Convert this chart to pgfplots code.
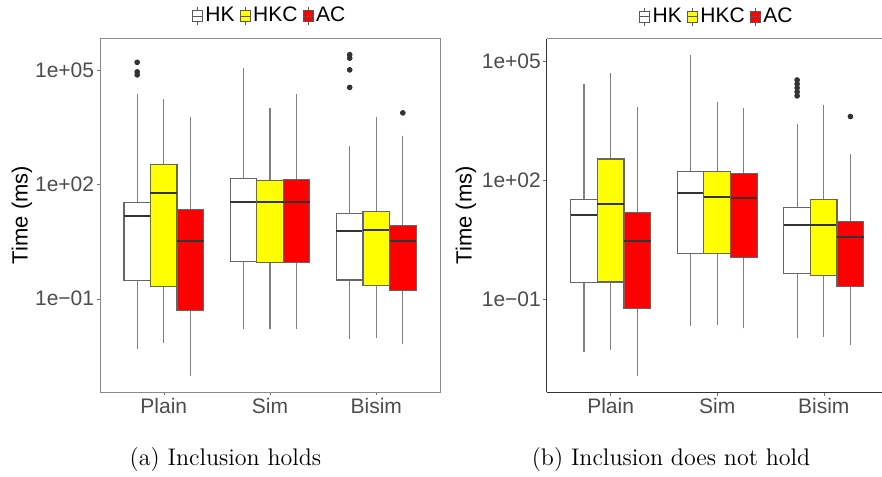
\documentclass[border=0pt]{standalone}
\usepackage{fontspec}
\usepackage{pgfplots}
\pgfplotsset{compat=1.18}
\usepgfplotslibrary{statistics}
\newfontfamily\arial{Liberation Sans}
\definecolor{ticktext}{RGB}{77,77,77}
\definecolor{acred}{RGB}{255,0,0}
\definecolor{hkcyellow}{RGB}{255,255,0}

\pgfplotsset{
  boxleg/.style={legend image code/.code={%
    \draw[##1] (0.25em,-0.45em) -- (0.25em,0.45em);
    \draw[##1] (0em,-0.28em) rectangle (0.5em,0.28em);
    \draw[##1] (0em,0em) -- (0.5em,0em);
  }},
  bxHK/.style={forget plot, draw=black!65, fill=white, mark=*, mark size=1.2pt,
    mark options={draw=black!80, fill=black!80}},
  bxHKC/.style={bxHK, fill=hkcyellow},
  bxAC/.style={bxHK, fill=acred},
}

\begin{document}
\begin{tikzpicture}
% (a) Inclusion holds
\begin{axis}[scale only axis, anchor=south west, at={(50pt,42pt)},
  width=170pt, height=177pt,
  xmin=0.4, xmax=3.6, ymode=log, ymin=0.000351, ymax=724000,
  xtick={1,2,3}, xticklabels={Plain,Sim,Bisim},
  ytick={0.1,100,100000}, yticklabels={1e−01,1e+02,1e+05},
  yminorticks=false,
  xtick pos=bottom, ytick pos=left, tick align=outside, major tick length=1.75pt,
  tick style={black!55},
  tick label style={font=\arial\fontsize{10.5}{12}\selectfont, text=ticktext},
  xticklabel style={inner sep=1pt}, yticklabel style={inner sep=1pt},
  ylabel={Time (ms)},
  ylabel style={font=\arial\fontsize{11}{13}\selectfont, at={(axis description cs:0,0.5)}, anchor=center, yshift=39pt},
  axis line style={black!45},
  boxplot/draw direction=y, boxplot/box extend=0.25, boxplot/whisker extend=0,
  boxplot/every whisker/.style={draw=black!50, line width=0.6pt},
  boxplot/every box/.style={draw=black!60, line width=0.6pt},
  boxplot/every median/.style={draw=black!80, line width=1pt},
  legend columns=3,
  legend style={draw=none, fill=none, at={(0.5,1)}, anchor=center, yshift=11pt,
    font=\arial\fontsize{10.5}{12}\selectfont, inner sep=0pt, nodes={inner sep=1.2pt},
    /tikz/every even column/.append style={column sep=1.5pt}}]
\addplot[bxHK, boxplot prepared={draw position=0.75, lower whisker=0.00468, lower quartile=0.295, median=14.8, upper quartile=33.9, upper whisker=24000}] table[row sep=\\, y index=0] {y\\166000\\93000\\77600\\};
\addplot[bxHKC, boxplot prepared={draw position=1, lower whisker=0.00676, lower quartile=0.214, median=58.9, upper quartile=347, upper whisker=17800}] coordinates {};
\addplot[bxAC, boxplot prepared={draw position=1.25, lower whisker=0.000933, lower quartile=0.0501, median=3.31, upper quartile=22.4, upper whisker=5890}] coordinates {};
\addplot[bxHK, boxplot prepared={draw position=1.75, lower whisker=0.0158, lower quartile=0.933, median=34.7, upper quartile=145, upper whisker=115000}] coordinates {};
\addplot[bxHKC, boxplot prepared={draw position=2, lower whisker=0.0158, lower quartile=0.891, median=34.7, upper quartile=132, upper whisker=10200}] coordinates {};
\addplot[bxAC, boxplot prepared={draw position=2.25, lower whisker=0.0158, lower quartile=0.891, median=34.7, upper quartile=138, upper whisker=24000}] coordinates {};
\addplot[bxHK, boxplot prepared={draw position=2.75, lower whisker=0.00871, lower quartile=0.309, median=5.89, upper quartile=17.4, upper whisker=1070}] table[row sep=\\, y index=0] {y\\263000\\214000\\105000\\36300\\};
\addplot[bxHKC, boxplot prepared={draw position=3, lower whisker=0.00912, lower quartile=0.219, median=6.46, upper quartile=19.5, upper whisker=5890}] coordinates {};
\addplot[bxAC, boxplot prepared={draw position=3.25, lower whisker=0.00631, lower quartile=0.166, median=3.31, upper quartile=8.32, upper whisker=1950}] table[row sep=\\, y index=0] {y\\7760\\};
\addlegendimage{boxleg, draw=black!65, fill=white}
\addlegendimage{boxleg, draw=black!65, fill=hkcyellow}
\addlegendimage{boxleg, draw=black!65, fill=acred}
\legend{HK,HKC,AC}
\end{axis}

% (b) Inclusion does not hold
\begin{axis}[scale only axis, anchor=south west, at={(273.35pt,42pt)},
  width=170.5pt, height=176.65pt,
  xmin=0.4, xmax=3.6, ymode=log, ymin=0.000457, ymax=363000,
  xtick={1,2,3}, xticklabels={Plain,Sim,Bisim},
  ytick={0.1,100,100000}, yticklabels={1e−01,1e+02,1e+05},
  yminorticks=false,
  xtick pos=bottom, ytick pos=left, tick align=outside, major tick length=1.75pt,
  tick style={black!55},
  tick label style={font=\arial\fontsize{10.5}{12}\selectfont, text=ticktext},
  xticklabel style={inner sep=1pt}, yticklabel style={inner sep=1pt},
  ylabel={Time (ms)},
  ylabel style={font=\arial\fontsize{11}{13}\selectfont, at={(axis description cs:0,0.5)}, anchor=center, yshift=40.35pt},
  axis lines*=left, axis line style={black!80},
  boxplot/draw direction=y, boxplot/box extend=0.25, boxplot/whisker extend=0,
  boxplot/every whisker/.style={draw=black!50, line width=0.6pt},
  boxplot/every box/.style={draw=black!60, line width=0.6pt},
  boxplot/every median/.style={draw=black!80, line width=1pt},
  legend columns=3,
  legend style={draw=none, fill=none, at={(0.5,1)}, anchor=center, yshift=11pt,
    font=\arial\fontsize{10.5}{12}\selectfont, inner sep=0pt, nodes={inner sep=1.2pt},
    /tikz/every even column/.append style={column sep=1.5pt}}]
\draw[black!45] (rel axis cs:0,1) -- (rel axis cs:1,1);
\addplot[bxHK, boxplot prepared={draw position=0.75, lower whisker=0.00457, lower quartile=0.257, median=12.9, upper quartile=31.6, upper whisker=25700}] coordinates {};
\addplot[bxHKC, boxplot prepared={draw position=1, lower whisker=0.00537, lower quartile=0.269, median=24.5, upper quartile=339, upper whisker=49000}] coordinates {};
\addplot[bxAC, boxplot prepared={draw position=1.25, lower whisker=0.00117, lower quartile=0.0575, median=2.95, upper quartile=15.5, upper whisker=6760}] coordinates {};
\addplot[bxHK, boxplot prepared={draw position=1.75, lower whisker=0.0209, lower quartile=1.38, median=46.8, upper quartile=166, upper whisker=141000}] coordinates {};
\addplot[bxHKC, boxplot prepared={draw position=2, lower whisker=0.0219, lower quartile=1.38, median=37.2, upper quartile=166, upper whisker=9330}] coordinates {};
\addplot[bxAC, boxplot prepared={draw position=2.25, lower whisker=0.0182, lower quartile=1.10, median=35.5, upper quartile=148, upper whisker=6460}] coordinates {};
\addplot[bxHK, boxplot prepared={draw position=2.75, lower whisker=0.0102, lower quartile=0.447, median=7.24, upper quartile=20.4, upper whisker=2630}] table[row sep=\\, y index=0] {y\\33100\\26300\\20900\\16600\\13200\\};
\addplot[bxHKC, boxplot prepared={draw position=3, lower whisker=0.0110, lower quartile=0.398, median=7.41, upper quartile=31.6, upper whisker=7760}] coordinates {};
\addplot[bxAC, boxplot prepared={draw position=3.25, lower whisker=0.00692, lower quartile=0.209, median=3.72, upper quartile=9.12, upper whisker=447}] table[row sep=\\, y index=0] {y\\3980\\};
\addlegendimage{boxleg, draw=black!65, fill=white}
\addlegendimage{boxleg, draw=black!65, fill=hkcyellow}
\addlegendimage{boxleg, draw=black!65, fill=acred}
\legend{HK,HKC,AC}
\end{axis}

\node[font=\fontsize{12}{14}\selectfont] at (112.75pt,8.25pt) {(a) Inclusion holds};
\node[font=\fontsize{12}{14}\selectfont] at (335.5pt,8.25pt) {(b) Inclusion does not hold};

\pgfresetboundingbox
\useasboundingbox (0,0) rectangle (441pt,238pt);
\end{tikzpicture}
\end{document}
